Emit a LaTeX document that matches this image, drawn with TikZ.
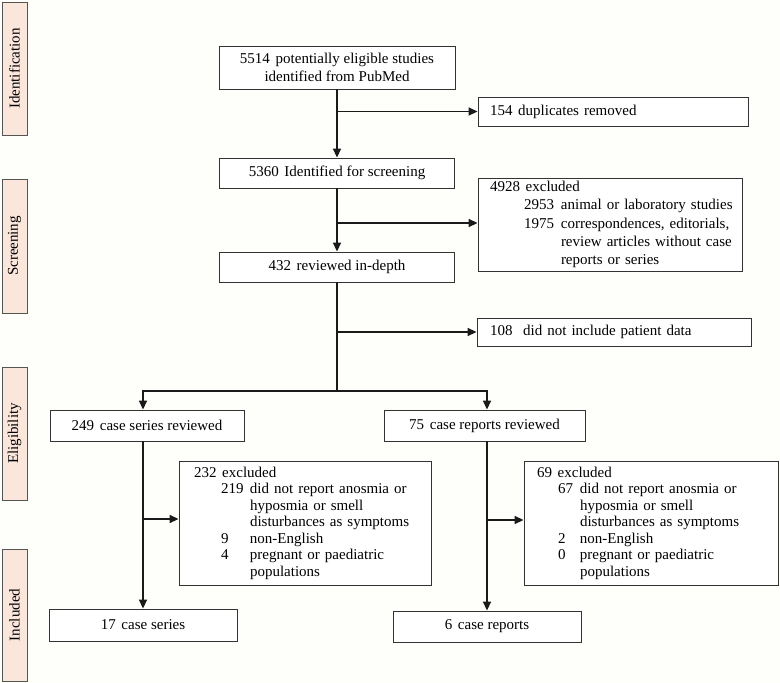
\documentclass[tikz,border=0pt]{standalone}
\usepackage{fontspec}
\setmainfont{Liberation Serif}
\usetikzlibrary{arrows.meta}
\definecolor{bgcol}{HTML}{FEFEFB}
\definecolor{stagefill}{HTML}{FBE6DB}
\definecolor{stageline}{HTML}{555555}
\definecolor{boxline}{HTML}{333333}
\definecolor{arrcol}{HTML}{1A1A1A}
\newcommand\gp{\hspace{0.38em}}
\newcommand\ind[2]{\mbox{\hspace*{#1}#2}}
\newcommand\num[4]{\mbox{\hspace*{#1}\makebox[#2][l]{#3}#4}}
\begin{document}
\begin{tikzpicture}[x=1pt,y=-1pt,
  box/.style={draw=boxline,line width=0.9pt,fill=white,inner sep=0pt,font=\fontsize{15}{18}\selectfont},
  stagebox/.style={draw=stageline,line width=0.9pt,fill=stagefill,rotate=90,minimum height=25pt,inner sep=0pt,font=\fontsize{15}{18}\selectfont},
  arr/.style={draw=arrcol,line width=1.6pt,-{Triangle[width=8pt,length=9pt]}},
  ln/.style={draw=arrcol,line width=1.6pt}]
\fill[bgcol] (0,0) rectangle (780,683);
\useasboundingbox (0,0) rectangle (780,683);

% stage labels
\node[stagebox,minimum width=133pt] (sid) at (14.5,68.5) {Identification};
\node[stagebox,minimum width=134pt] (sscr) at (14.5,246) {Screening};
\node[stagebox,minimum width=133pt] (selig) at (14.5,433.5) {Eligibility};
\node[stagebox,minimum width=132pt] (sinc) at (14.5,615) {Included};

% main boxes
\node[box,minimum width=236pt,minimum height=43pt,align=center] (b1) at (337,67.5)
  {5514\gp potentially eligible studies\\identified from PubMed};
\node[box,minimum width=270pt,minimum height=29pt,text width=246pt,align=left] (dup) at (613,111.5)
  {154\gp duplicates removed};
\node[box,minimum width=235pt,minimum height=30pt] (scr) at (337,173)
  {5360\gp Identified for screening};
\node[box,minimum width=264pt,minimum height=93pt,text width=240pt,align=left,
  font=\fontsize{15}{18.3}\selectfont] (ex1) at (610,224.5)
  {\mbox{4928\gp excluded}\\
   \num{34pt}{37pt}{2953}{animal or laboratory studies}\\
   \num{34pt}{37pt}{1975}{correspondences, editorials,}\\
   \ind{71pt}{review articles without case}\\
   \ind{71pt}{reports or series}};
\node[box,minimum width=235pt,minimum height=30pt] (rev) at (337,267)
  {432\gp reviewed in-depth};
\node[box,minimum width=274pt,minimum height=28pt,text width=248pt,align=left] (pat) at (614,332)
  {108\gp\ did not include patient data};
\node[box,minimum width=194pt,minimum height=31pt] (cs) at (147,425.5)
  {249\gp case series reviewed};
\node[box,minimum width=201pt,minimum height=31pt] (cr) at (484.5,425.5)
  {75\gp case reports reviewed};
\node[box,minimum width=252pt,minimum height=124pt,text width=222pt,align=left,
  font=\fontsize{15}{16.5}\selectfont] (ex2) at (305,523)
  {\mbox{232\gp excluded}\\
   \num{27pt}{29pt}{219}{did not report anosmia or}\\
   \ind{56pt}{hyposmia or smell}\\
   \ind{56pt}{disturbances as symptoms}\\
   \num{27pt}{29pt}{9}{non-English}\\
   \num{27pt}{29pt}{4}{pregnant or paediatric}\\
   \ind{56pt}{populations}};
\node[box,minimum width=254pt,minimum height=124pt,text width=228pt,align=left,
  font=\fontsize{15}{16.5}\selectfont] (ex3) at (651,523)
  {\mbox{69\gp excluded}\\
   \num{21pt}{22pt}{67}{did not report anosmia or}\\
   \ind{43pt}{hyposmia or smell}\\
   \ind{43pt}{disturbances as symptoms}\\
   \num{21pt}{22pt}{2}{non-English}\\
   \num{21pt}{22pt}{0}{pregnant or paediatric}\\
   \ind{43pt}{populations}};
\node[box,minimum width=188pt,minimum height=32pt] (f1) at (143,625)
  {17\gp case series};
\node[box,minimum width=188pt,minimum height=31pt] (f2) at (487,626.5)
  {6\gp case reports};

\coordinate (split) at (337,391);

% connectors
\draw[arr] (b1.south) -- (scr.north);
\draw[arr] (b1.south |- dup.west) -- (dup.west);
\draw[arr] (scr.south) -- (rev.north);
\draw[arr] (scr.south |- 0,223) -- (ex1.west |- 0,223);
\draw[ln] (rev.south) -- (split);
\draw[arr] (rev.south |- pat.west) -- (pat.west);
\draw[arr] (split) -| (cs.north -| f1.north);
\draw[arr] (split) -| (cr.north -| f2.north);
\draw[arr] (cs.south -| f1.north) -- (f1.north);
\draw[arr] (f1.north |- 0,519) -- (ex2.west |- 0,519);
\draw[arr] (cr.south -| f2.north) -- (f2.north);
\draw[arr] (f2.north |- 0,520) -- (ex3.west |- 0,520);
\end{tikzpicture}
\end{document}
